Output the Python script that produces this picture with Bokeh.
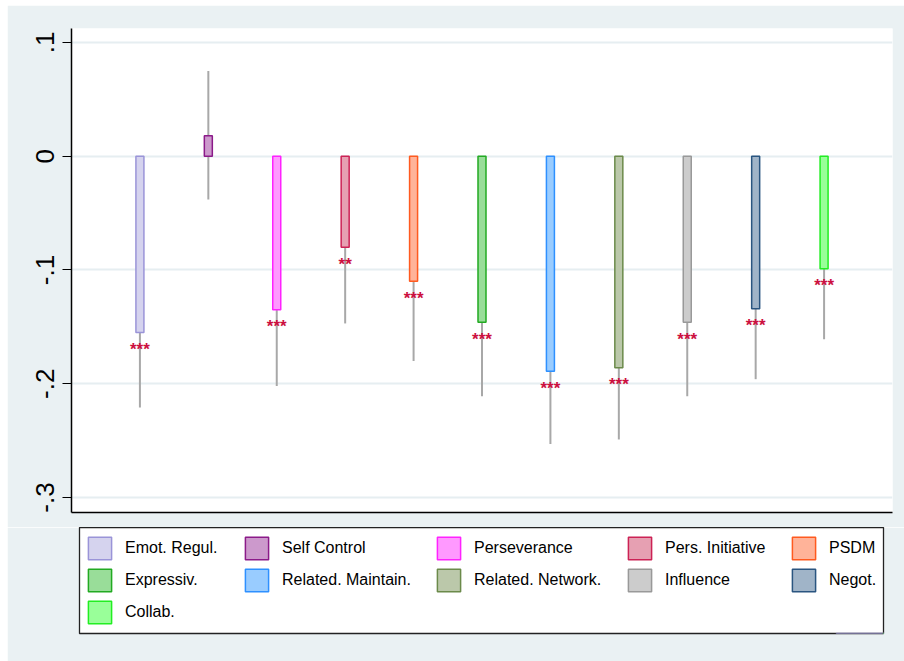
from bokeh.plotting import figure
from bokeh.models import ColumnDataSource, Legend, LegendItem, FixedTicker, Range1d
from bokeh.embed import file_html
from bokeh.resources import INLINE
from bokeh.core.properties import value

labels = ["Emot. Regul.", "Self Control", "Perseverance", "Pers. Initiative", "PSDM",
          "Expressiv.", "Related. Maintain.", "Related. Network.", "Influence", "Negot.", "Collab."]
xpos = [1, 2, 3, 4, 5, 6, 7, 8, 9, 10, 11]
estimates = [-0.155, 0.018, -0.135, -0.080, -0.110, -0.146, -0.189, -0.186, -0.146, -0.134, -0.099]
ci_low = [-0.221, -0.038, -0.202, -0.147, -0.180, -0.211, -0.253, -0.249, -0.211, -0.196, -0.161]
ci_high = [-0.089, 0.075, -0.068, -0.013, -0.040, -0.081, -0.125, -0.123, -0.081, -0.072, -0.037]
stars = ["***", "", "***", "**", "***", "***", "***", "***", "***", "***", "***"]
fill_colors = ["#D5D3EE", "#CC99CC", "#FF99FF", "#E6A0B2", "#FFB399", "#99DD99",
               "#99CCFF", "#BBC8AA", "#CCCCCC", "#A0B4C8", "#99FF99"]
line_colors = ["#9A94D8", "#8B1A89", "#FF22FF", "#CC2255", "#FF5A1F", "#22AA22",
               "#2E90FF", "#6B8A4A", "#999999", "#2A5580", "#22EE22"]
yticks = [-0.3, -0.2, -0.1, 0.0, 0.1]
ytick_labels = ["-.3", "-.2", "-.1", "0", ".1"]

src = ColumnDataSource(dict(x=xpos, est=estimates, lo=ci_low, hi=ci_high, zero=[0.0] * len(xpos),
                            label=labels, stars=stars, fill=fill_colors, line=line_colors))

BG = "#EAF1F3"

# ---------------- main plot ----------------
p = figure(frame_width=821, frame_height=484, min_border_left=64, min_border_top=23,
           min_border_right=12, min_border_bottom=15,
           x_range=Range1d(0, 12), y_range=Range1d(-0.3132, 0.1123),
           output_backend="svg", toolbar_location=None)
p.margin = (5, 0, 0, 7)
p.border_fill_color = BG
p.background_fill_color = "white"
p.outline_line_color = None

p.xgrid.visible = False
p.ygrid.grid_line_color = "#E6EEF1"
p.ygrid.grid_line_width = 2
p.ygrid.ticker = FixedTicker(ticks=yticks)

ya = p.yaxis[0]
ya.ticker = FixedTicker(ticks=yticks)
ya.major_label_overrides = {t: l for t, l in zip(yticks, ytick_labels)}
ya.major_label_orientation = "vertical"
ya.major_label_text_font = "Liberation Sans"
ya.major_label_text_font_size = "26px"
ya.major_label_text_color = "black"
ya.major_tick_out = 9
ya.major_tick_in = 0
ya.minor_tick_line_color = None
ya.axis_line_color = "black"
ya.axis_line_width = 1.5
ya.major_tick_line_color = "black"
ya.major_label_standoff = 8

xa = p.xaxis[0]
xa.ticker = FixedTicker(ticks=[])
xa.major_label_text_font_size = "0px"
xa.major_label_standoff = 0
xa.major_tick_out = 0
xa.major_tick_in = 0
xa.minor_tick_line_color = None
xa.axis_line_color = "black"
xa.axis_line_width = 1.5

p.segment(x0="x", y0="lo", x1="x", y1="hi", source=src, line_color="#A8A8A8", line_width=2)
p.vbar(x="x", top="zero", bottom="est", width=0.117, source=src,
       fill_color="fill", line_color="line", line_width=1.5)
p.text(x="x", y="est", text="stars", source=src, text_color="#CC1040",
       text_font=value("Liberation Sans"), text_font_size="17px", text_font_style="bold",
       text_align="center", text_baseline="alphabetic", y_offset=17)

# ---------------- legend panel ----------------
LEG_W, LEG_H = 804, 106
q = figure(frame_width=LEG_W, frame_height=LEG_H, min_border_left=72, min_border_top=0,
           min_border_right=21, min_border_bottom=28,
           x_range=Range1d(0, 1), y_range=Range1d(100, 101),
           x_axis_location=None, y_axis_location=None,
           output_backend="svg", toolbar_location=None)
q.margin = (0, 0, 0, 7)
q.border_fill_color = BG
q.background_fill_color = "white"
q.outline_line_color = "#222222"
q.outline_line_width = 1.3
q.grid.visible = False

# same bars, placed outside this panel's visible range, only feed the legend swatches
keys = q.vbar(x="x", top="zero", bottom="est", width=0.117, source=src,
              fill_color="fill", line_color="line", line_width=1.5)

ncols = 5
col_x = [6, 163, 355, 546, 710]      # left of each legend column inside the box (px)
glyph_w, glyph_h, row_gap, top_pad = 29, 28, 4, 7
for c in range(ncols):
    idx = list(range(c, len(labels), ncols))
    h = len(idx) * glyph_h + (len(idx) - 1) * row_gap
    lg = Legend(items=[LegendItem(label=labels[i], renderers=[keys], index=i) for i in idx],
                location=(col_x[c], LEG_H - top_pad - h))
    lg.glyph_width = glyph_w
    lg.glyph_height = glyph_h
    lg.spacing = row_gap
    lg.label_standoff = 11
    lg.padding = 0
    lg.margin = 0
    lg.label_text_font = "Liberation Sans"
    lg.label_text_font_size = "16px"
    lg.label_text_color = "black"
    lg.border_line_color = None
    lg.background_fill_alpha = 0
    q.add_layout(lg, "center")

open("out.html", "w").write(file_html([p, q], INLINE))
